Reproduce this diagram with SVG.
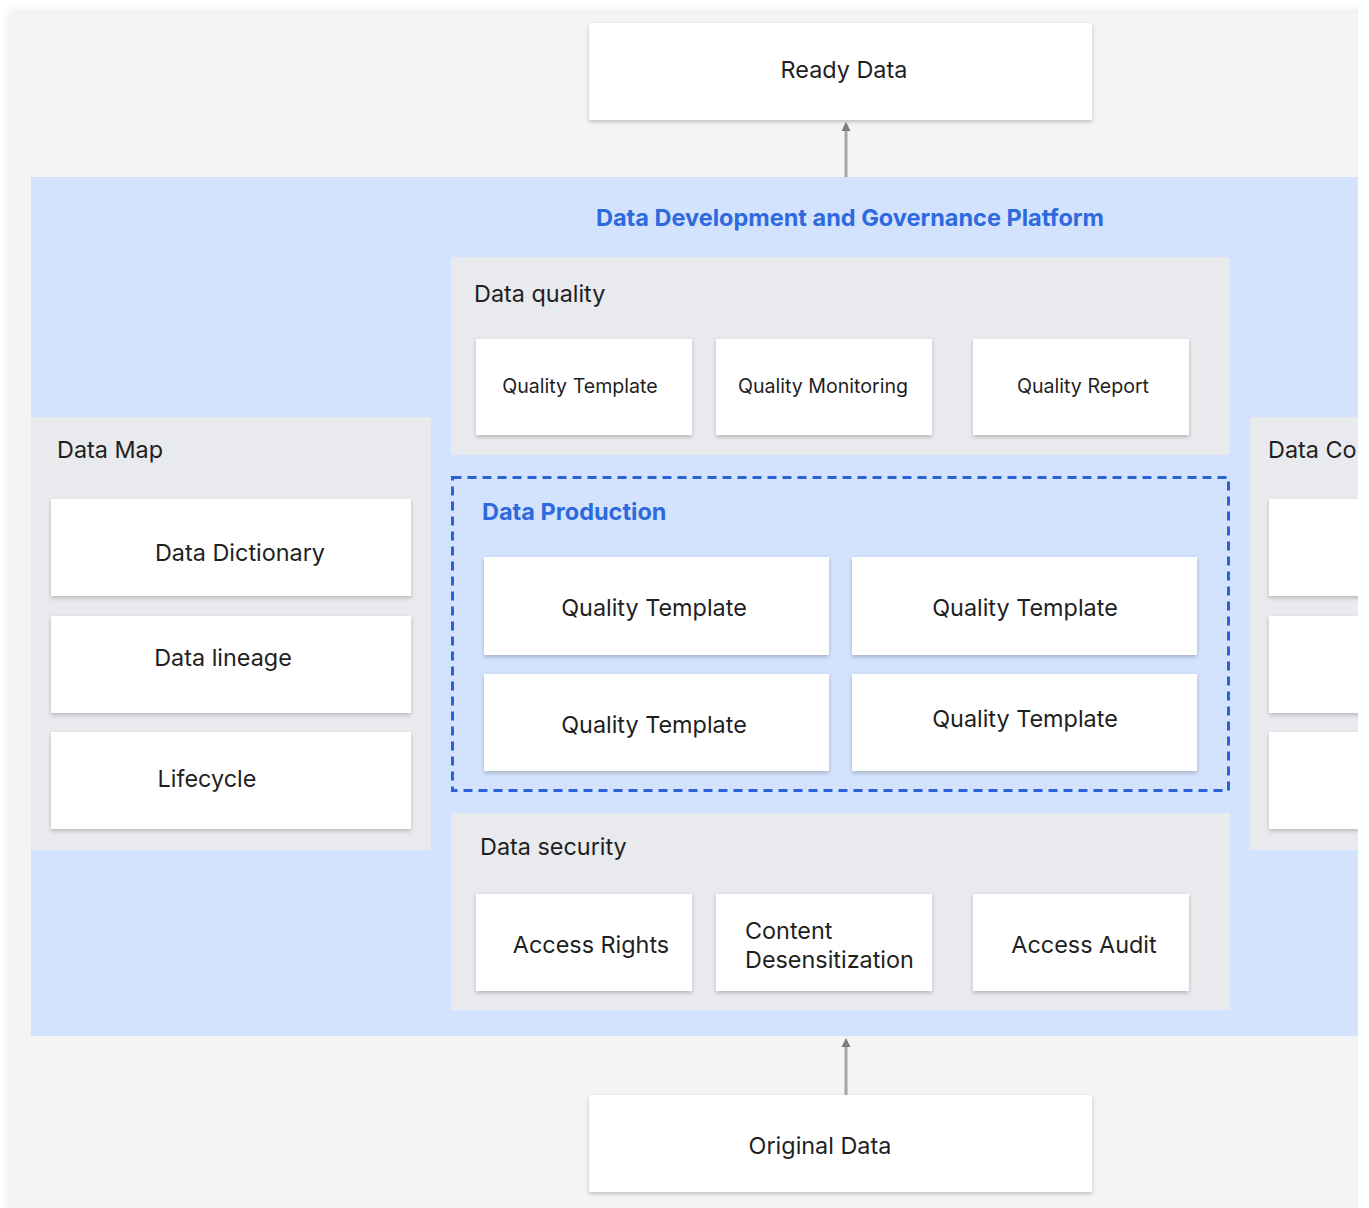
<svg xmlns="http://www.w3.org/2000/svg" width="1369" height="1208" viewBox="0 0 1369 1208">
<style>
.t{font-family:Inter,"Noto Sans","Liberation Sans",sans-serif;fill:#1f1f1f}
.b{font-size:23.4px}
.s{font-size:19.6px}
.h{font-family:Inter,"Noto Sans","Liberation Sans",sans-serif;font-weight:700;fill:#2e6ade;font-size:23.5px}
.box{fill:#ffffff;filter:url(#sh)}
.panel{fill:#e8eaed}
.conn{stroke:#a6a6a6;stroke-width:3;fill:none}
</style>
<defs>
<filter id="sh" x="-10%" y="-20%" width="120%" height="150%">
<feDropShadow dx="0" dy="2" stdDeviation="2" flood-color="#000" flood-opacity="0.22"/>
</filter>
<filter id="bgsh" x="-5%" y="-5%" width="110%" height="110%">
<feDropShadow dx="0" dy="0" stdDeviation="4" flood-color="#000" flood-opacity="0.12"/>
</filter>
<marker id="ah" viewBox="0 0 10 10" refX="1" refY="5" markerWidth="9" markerHeight="11" orient="auto" markerUnits="userSpaceOnUse">
<path d="M0,0 L10,5 L0,10 Z" fill="#7d7d7d"/>
</marker>
<clipPath id="clip"><rect x="0" y="0" width="1358" height="1208"/></clipPath>
</defs>
<rect width="1369" height="1208" fill="#ffffff"/>
<g clip-path="url(#clip)">
<rect id="background" x="10" y="12" width="1400" height="1220" fill="#f4f4f4" filter="url(#bgsh)"/>
<g id="platform">
<rect x="31" y="177" width="1360" height="859" fill="#d3e3fd"/>
<text class="h" x="850" y="226" text-anchor="middle">Data Development and Governance Platform</text>
</g>
<g id="connectors">
<line class="conn" x1="846" y1="177" x2="846" y2="130" marker-end="url(#ah)"/>
<line class="conn" x1="846" y1="1095" x2="846" y2="1046" marker-end="url(#ah)"/>
</g>
<g id="ready-data">
<rect class="box" x="589" y="23" width="503" height="97"/>
<text class="t b" x="844" y="78" text-anchor="middle">Ready Data</text>
</g>
<g id="original-data">
<rect class="box" x="589" y="1095" width="503" height="97"/>
<text class="t b" x="820" y="1154" text-anchor="middle">Original Data</text>
</g>
<g id="data-quality">
<rect class="panel" x="451" y="257" width="779" height="198"/>
<text class="t b" x="474" y="302">Data quality</text>
<g id="dq-template"><rect class="box" x="476" y="339" width="216" height="96"/><text class="t s" x="580" y="393" text-anchor="middle">Quality Template</text></g>
<g id="dq-monitoring"><rect class="box" x="716" y="339" width="216" height="96"/><text class="t s" x="823" y="393" text-anchor="middle">Quality Monitoring</text></g>
<g id="dq-report"><rect class="box" x="973" y="339" width="216" height="96"/><text class="t s" x="1083" y="393" text-anchor="middle">Quality Report</text></g>
</g>
<g id="data-production">
<rect x="452.5" y="477.5" width="776" height="313" fill="none" stroke="#2b62d9" stroke-width="3" stroke-dasharray="9 6"/>
<text class="h" x="482" y="520">Data Production</text>
<g id="dp-1"><rect class="box" x="484" y="557" width="345" height="98"/><text class="t b" x="654" y="616" text-anchor="middle">Quality Template</text></g>
<g id="dp-2"><rect class="box" x="852" y="557" width="345" height="98"/><text class="t b" x="1025" y="616" text-anchor="middle">Quality Template</text></g>
<g id="dp-3"><rect class="box" x="484" y="674" width="345" height="97"/><text class="t b" x="654" y="733" text-anchor="middle">Quality Template</text></g>
<g id="dp-4"><rect class="box" x="852" y="674" width="345" height="97"/><text class="t b" x="1025" y="727" text-anchor="middle">Quality Template</text></g>
</g>
<g id="data-security">
<rect class="panel" x="451" y="813" width="779" height="197"/>
<text class="t b" x="480" y="855">Data security</text>
<g id="ds-rights"><rect class="box" x="476" y="894" width="216" height="97"/><text class="t b" x="591" y="953" text-anchor="middle">Access Rights</text></g>
<g id="ds-desens"><rect class="box" x="716" y="894" width="216" height="97"/><text class="t b" x="745" y="939">Content</text><text class="t b" x="745" y="968">Desensitization</text></g>
<g id="ds-audit"><rect class="box" x="973" y="894" width="216" height="97"/><text class="t b" x="1084" y="953" text-anchor="middle">Access Audit</text></g>
</g>
<g id="data-map">
<rect class="panel" x="31" y="417" width="400" height="433"/>
<text class="t b" x="57" y="458">Data Map</text>
<g id="dm-dictionary"><rect class="box" x="51" y="499" width="360" height="97"/><text class="t b" x="240" y="561" text-anchor="middle">Data Dictionary</text></g>
<g id="dm-lineage"><rect class="box" x="51" y="616" width="360" height="97"/><text class="t b" x="223" y="666" text-anchor="middle">Data lineage</text></g>
<g id="dm-lifecycle"><rect class="box" x="51" y="732" width="360" height="97"/><text class="t b" x="207" y="787" text-anchor="middle">Lifecycle</text></g>
</g>
<g id="data-co">
<rect class="panel" x="1250" y="417" width="200" height="433"/>
<text class="t b" x="1268" y="458">Data Co</text>
<g id="dc-1"><rect class="box" x="1269" y="499" width="200" height="97"/></g>
<g id="dc-2"><rect class="box" x="1269" y="616" width="200" height="97"/></g>
<g id="dc-3"><rect class="box" x="1269" y="732" width="200" height="97"/></g>
</g>
</g>
</svg>
